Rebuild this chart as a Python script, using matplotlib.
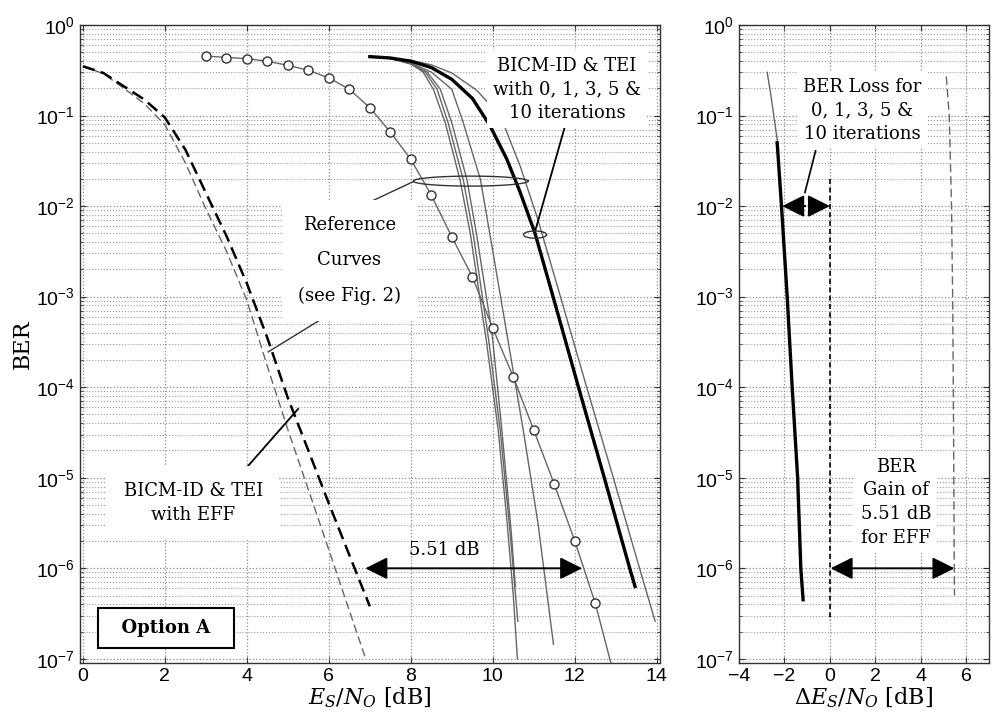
import numpy as np
import matplotlib.pyplot as plt
from matplotlib.ticker import FixedLocator, LogLocator, NullFormatter, MultipleLocator

plt.rcParams['font.family'] = ['Liberation Sans', 'DejaVu Sans']
plt.rcParams['mathtext.fontset'] = 'dejavuserif'

# ---------------- left panel: BER vs Es/N0 ----------------
# BICM-ID & TEI with EFF (thick black dashed)
eff_x = [0, 0.5, 1, 1.5, 2, 2.5, 3, 3.5, 4, 4.5, 5, 5.5, 6, 6.5, 7]
eff_ber = [3.5e-1, 2.95e-1, 2.1e-1, 1.5e-1, 9.5e-2, 4.2e-2, 1.4e-2, 4.7e-3,
           1.4e-3, 3.5e-4, 7.6e-5, 2.0e-5, 5.2e-6, 1.4e-6, 3.8e-7]
# reference EFF curve (thin grey dashed)
eff_ref_x = [0, 0.5, 1, 1.5, 2, 2.5, 3, 3.5, 4, 4.5, 5, 5.5, 6, 6.5, 6.9]
eff_ref_ber = [3.5e-1, 2.9e-1, 2.0e-1, 1.35e-1, 7.9e-2, 3.0e-2, 9.3e-3, 3.2e-3,
               9.1e-4, 1.7e-4, 3.4e-5, 7.4e-6, 1.6e-6, 3.4e-7, 1.0e-7]
# reference curve with circle markers
circ_x = [3, 3.5, 4, 4.5, 5, 5.5, 6, 6.5, 7, 7.5, 8, 8.5, 9, 9.5, 10, 10.5,
          11, 11.5, 12, 12.5, 13]
circ_ber = [0.454, 0.437, 0.426, 0.397, 0.359, 0.316, 0.26, 0.195, 0.122,
            0.0658, 0.0328, 0.0132, 4.57e-3, 1.66e-3, 4.47e-4, 1.3e-4,
            3.35e-5, 8.5e-6, 2.0e-6, 4.1e-7, 5.6e-8]
# steep reference curves (thin grey)
ref_a_x = [7.0, 7.5, 8.0, 8.3, 8.55, 8.84, 9.2, 9.45, 9.84, 10.13, 10.35, 10.5, 10.6]
ref_a_ber = [0.447, 0.427, 0.372, 0.302, 0.195, 0.0832, 0.0195, 5.0e-3,
             3.3e-4, 3.4e-5, 3.2e-6, 5.0e-7, 1.0e-7]
ref_b_x = [7.0, 7.5, 8.0, 8.35, 8.64, 8.91, 9.28, 9.52, 9.9, 10.18, 10.4, 10.61]
ref_b_ber = [0.447, 0.427, 0.372, 0.302, 0.195, 0.0832, 0.0195, 5.0e-3,
             3.3e-4, 3.4e-5, 3.2e-6, 2.6e-7]
ref_c_x = [7.0, 7.5, 8.0, 8.4, 8.72, 9.0, 9.37, 9.6, 9.98, 10.22, 10.45, 10.55]
ref_c_ber = [0.447, 0.427, 0.372, 0.302, 0.195, 0.0832, 0.0195, 5.0e-3,
             4.0e-4, 3.4e-5, 2.5e-6, 6.3e-7]
ref_d_x = [7.0, 7.5, 8.0, 8.5, 9.0, 9.28, 9.7, 9.95, 10.37, 10.75, 11.1, 11.48]
ref_d_ber = [0.447, 0.427, 0.38, 0.302, 0.195, 0.0832, 0.0195, 4.3e-3,
             3.3e-4, 3.2e-5, 3.2e-6, 1.45e-7]
# BICM-ID & TEI, 0/1/3/5/10 iterations (thick bundle) and outer thin curve
tei_x = [7.0, 7.5, 8.0, 8.5, 9.0, 9.5, 9.93, 10.34, 10.67, 11.03, 11.47,
         12.09, 12.72, 13.34, 13.47]
tei_ber = [0.447, 0.432, 0.398, 0.339, 0.251, 0.155, 0.0776, 0.0331, 0.0141,
           5.0e-3, 1.0e-3, 1.0e-4, 1.0e-5, 1.0e-6, 6.3e-7]
tei_out_x = [7.0, 8.0, 8.5, 9.0, 9.6, 10.18, 10.67, 11.1, 11.65, 12.29,
             12.94, 13.58, 13.96]
tei_out_ber = [0.447, 0.407, 0.363, 0.295, 0.191, 0.1, 0.0275, 7.1e-3,
               1.0e-3, 1.0e-4, 1.0e-5, 1.0e-6, 2.6e-7]

# ---------------- right panel: BER vs delta Es/N0 ----------------
loss_thin_x = [-2.76, -2.6, -2.47, -2.3]
loss_thin_ber = [0.3, 0.17, 0.1, 0.05]
loss_x = [-2.32, -2.13, -1.88, -1.66, -1.42, -1.28, -1.18]
loss_ber = [5e-2, 1e-2, 1e-3, 1e-4, 1e-5, 1e-6, 4.5e-7]
zero_x = [0, 0]
zero_ber = [2e-2, 2.6e-7]
gain_x = [5.12, 5.25, 5.35, 5.4, 5.43, 5.45, 5.47, 5.48]
gain_ber = [0.27, 0.1, 1e-2, 1e-3, 1e-4, 1e-5, 1e-6, 5e-7]

decades = [1e-7, 1e-6, 1e-5, 1e-4, 1e-3, 1e-2, 1e-1, 1e0]
gap_db = 5.51

SERIF = 'DejaVu Serif'
GREY = '#666666'

fig = plt.figure(figsize=(9.93, 7.22), dpi=100)
ax1 = fig.add_axes([0.0806, 0.0817, 0.5841, 0.8837])
ax2 = fig.add_axes([0.7442, 0.0817, 0.2518, 0.8837])


def style_axis(ax, xlim, step):
    ax.set_yscale('log')
    ax.set_ylim(9.0e-8, 1.0)
    ax.set_xlim(*xlim)
    ax.xaxis.set_major_locator(MultipleLocator(step))
    ax.yaxis.set_major_locator(FixedLocator(decades))
    ax.yaxis.set_minor_locator(LogLocator(base=10, subs=np.arange(2, 10), numticks=12))
    ax.yaxis.set_minor_formatter(NullFormatter())
    ax.set_axisbelow(True)
    ax.grid(True, which='major', color='#8a8a8a', linestyle=':', linewidth=0.9)
    ax.grid(True, which='minor', axis='y', color='#9a9a9a', linestyle=':', linewidth=0.8)
    ax.tick_params(which='both', direction='in', top=True, right=True,
                   labelsize=14, color='#333333')
    ax.tick_params(which='major', length=4)
    ax.tick_params(which='minor', length=2.5)
    for s in ax.spines.values():
        s.set_color('#333333')
        s.set_linewidth(1.0)


def ellipse(ax, cx, cy, a, b):
    t = np.linspace(0, 2 * np.pi, 120)
    ax.plot(cx + a * np.cos(t), 10 ** (np.log10(cy) + b * np.sin(t)),
            color='#333333', lw=1.0, zorder=5)


style_axis(ax1, (-0.07, 14.08), 2)
style_axis(ax2, (-4.0, 7.0), 2)

# ---- left panel curves
ax1.plot(eff_ref_x, eff_ref_ber, color=GREY, lw=1.0, dashes=(6, 3))
ax1.plot(eff_x, eff_ber, color='black', lw=1.8, dashes=(5, 2.5))
for rx, ry in [(ref_a_x, ref_a_ber), (ref_b_x, ref_b_ber),
               (ref_c_x, ref_c_ber), (ref_d_x, ref_d_ber)]:
    ax1.plot(rx, ry, color=GREY, lw=1.0)
ax1.plot(circ_x, circ_ber, color=GREY, lw=1.0, marker='o', markersize=6.5,
         markerfacecolor='white', markeredgecolor='#333333', markeredgewidth=1.0)
ax1.plot(tei_out_x, tei_out_ber, color=GREY, lw=1.0)
ax1.plot(tei_x, tei_ber, color='black', lw=2.4)

# ---- left panel annotations
ellipse(ax1, 9.46, 10 ** -1.724, 1.4, 0.055)
ellipse(ax1, 11.03, 10 ** -2.315, 0.28, 0.04)
ax1.plot([6.93, 8.06], [10 ** -1.97, 10 ** -1.73], color='#333333', lw=1.0)
ax1.plot([6.1, 4.52], [10 ** -3.17, 10 ** -3.61], color='#333333', lw=1.0)
ax1.plot([11.76, 11.03], [10 ** -1.12, 10 ** -2.28], color='black', lw=1.3)
ax1.plot([3.99, 5.25], [10 ** -4.89, 10 ** -4.24], color='black', lw=1.3)

txt = dict(family=SERIF, fontsize=13, ha='center', va='center', zorder=4)
ax1.text(6.5, 10 ** -2.6, 'Reference\nCurves\n(see Fig. 2)', linespacing=2.2,
         bbox=dict(boxstyle='square,pad=0.9', fc='white', ec='none'), **txt)
ax1.text(11.81, 10 ** -0.71, 'BICM-ID & TEI\nwith 0, 1, 3, 5 &\n10 iterations',
         linespacing=1.4, bbox=dict(boxstyle='square,pad=0.35', fc='white', ec='none'), **txt)
ax1.text(2.69, 10 ** -5.28, 'BICM-ID & TEI\nwith EFF', linespacing=1.4,
         bbox=dict(boxstyle='square,pad=0.9', fc='white', ec='none'), **txt)
ax1.text(8.82, 10 ** -5.8, f'{gap_db:.2f} dB', **txt)
ax1.annotate('', xy=(6.89 + gap_db - 0.22, 1e-6), xytext=(6.89, 1e-6),
             arrowprops=dict(arrowstyle='<|-|>', color='black', lw=1.4,
                             mutation_scale=34, shrinkA=0, shrinkB=0))
ax1.text(2.03, 10 ** -6.66, '  Option A  ', family=SERIF, fontsize=13,
         fontweight='bold', ha='center', va='center', zorder=4,
         bbox=dict(boxstyle='square,pad=0.6', fc='white', ec='black', lw=1.5))

ax1.set_ylabel('BER', family=SERIF, fontsize=16, labelpad=2)
ax1.set_xlabel(r'$E_S/N_O$ [dB]', family=SERIF, fontsize=16, labelpad=1)

# ---- right panel curves
ax2.plot(loss_thin_x, loss_thin_ber, color=GREY, lw=1.0)
ax2.plot(loss_x, loss_ber, color='black', lw=2.4)
ax2.plot(zero_x, zero_ber, color='black', lw=1.2, dashes=(3, 2))
ax2.plot(gain_x, gain_ber, color=GREY, lw=1.0, dashes=(6, 3))

# ---- right panel annotations
ax2.text(1.41, 10 ** -0.94, 'BER Loss for\n0, 1, 3, 5 &\n10 iterations',
         linespacing=1.4, bbox=dict(boxstyle='square,pad=0.3', fc='white', ec='none'), **txt)
ax2.text(2.9, 10 ** -5.27, 'BER\nGain of\n' + f'{gap_db:.2f} dB' + '\nfor EFF',
         linespacing=1.4, bbox=dict(boxstyle='square,pad=0.35', fc='white', ec='none'), **txt)
head = dict(arrowstyle='-|>', color='black', lw=1.4, mutation_scale=34,
            shrinkA=0, shrinkB=0)
ax2.annotate('', xy=(-2.1, 1e-2), xytext=(-1.0, 1e-2), arrowprops=head)
ax2.annotate('', xy=(0.0, 1e-2), xytext=(-1.0, 1e-2), arrowprops=head)
ax2.plot([-1.0], [1e-2], marker='|', markersize=9, color='white', mew=1.2, zorder=6)
ax2.plot([-0.63, -1.1], [10 ** -1.39, 10 ** -1.85], color='black', lw=1.2)
ax2.annotate('', xy=(gap_db - 0.03, 1e-6), xytext=(0.03, 1e-6),
             arrowprops=dict(arrowstyle='<|-|>', color='black', lw=1.4,
                             mutation_scale=34, shrinkA=0, shrinkB=0))
ax2.set_xlabel(r'$\Delta E_S/N_O$ [dB]', family=SERIF, fontsize=16, labelpad=1)

fig.savefig('out.png', dpi=100)
